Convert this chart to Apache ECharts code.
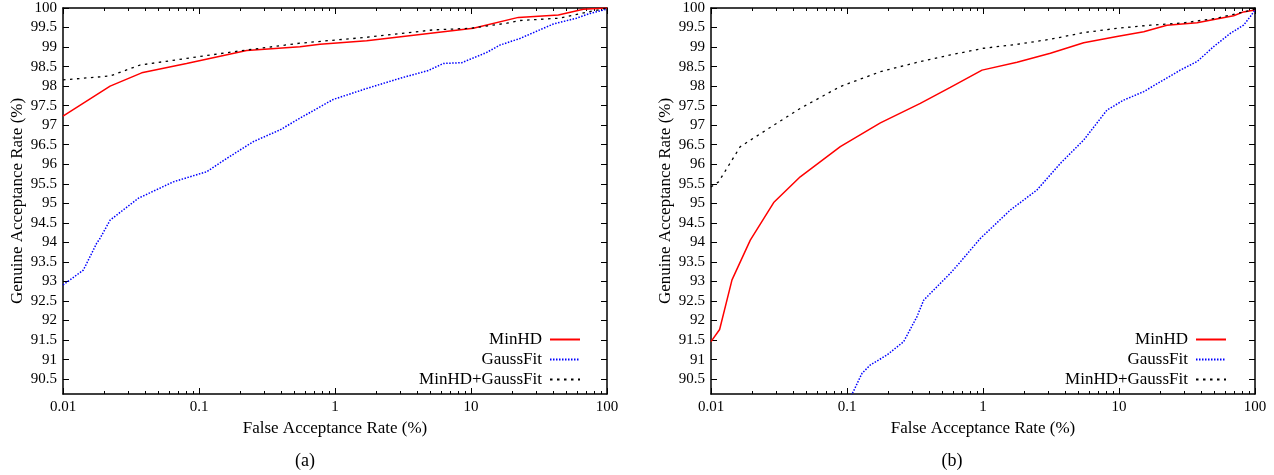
<!DOCTYPE html>
<html>
<head>
<meta charset="utf-8">
<script src="https://cdn.jsdelivr.net/npm/echarts@6/dist/echarts.min.js"></script>
<style>
  html, body { margin: 0; padding: 0; background: #fff; }
  #chart { width: 1274px; height: 475px; }
</style>
</head>
<body>
<div id="chart"></div>
<script>
// tick labels
const xTickLabels = [0.01, 0.1, 1, 10, 100];
const yTickLabels = [90.5, 91, 91.5, 92, 92.5, 93, 93.5, 94, 94.5, 95, 95.5, 96,
  96.5, 97, 97.5, 98, 98.5, 99, 99.5, 100];
const seriesNames = ['MinHD', 'GaussFit', 'MinHD+GaussFit'];
const panelLabels = ['(a)', '(b)'];

// panel (a): FAR (%) / GAR (%)
const aMinhdFar = [0.01, 0.0222, 0.0379, 0.081, 0.224, 0.553, 0.776, 1.71, 10.4, 22.3, 43.9, 67, 100];
const aMinhdGar = [97.23, 98.0, 98.34, 98.58, 98.91, 99.01, 99.07, 99.16, 99.48, 99.76, 99.82, 99.97, 100];
const aGaussFar = [0.01, 0.0141, 0.0177, 0.0187, 0.0222, 0.0358, 0.0647, 0.114, 0.16, 0.251, 0.394,
  0.553, 0.776, 0.972, 1.71, 3.0, 4.86, 6.26, 8.55, 13.0, 16.3, 22.9, 40.3, 59.8, 75, 100];
const aGaussGar = [92.91, 93.29, 93.98, 94.1, 94.57, 95.13, 95.55, 95.81, 96.15, 96.58, 96.88,
  97.18, 97.47, 97.66, 97.94, 98.2, 98.4, 98.58, 98.6, 98.86, 99.05, 99.22, 99.59, 99.74, 99.86, 99.97];
const aFusionFar = [0.01, 0.0222, 0.0368, 0.081, 0.179, 0.553, 1.71, 5.28, 9.84, 18.3, 22.9, 45.1, 70.9, 100];
const aFusionGar = [98.16, 98.26, 98.54, 98.71, 98.88, 99.1, 99.25, 99.44, 99.48, 99.61, 99.68, 99.74, 99.89, 100];

// panel (b)
const bMinhdFar = [0.01, 0.01157, 0.01427, 0.01945, 0.0289, 0.0453, 0.0893, 0.176, 0.346, 0.575,
  0.984, 1.78, 3.13, 5.5, 9.66, 15.2, 22.5, 37.5, 69.6, 82.4, 100];
const bMinhdGar = [91.46, 91.77, 93.04, 94.06, 95.02, 95.68, 96.45, 97.06, 97.56, 97.97,
  98.41, 98.61, 98.84, 99.11, 99.27, 99.39, 99.56, 99.62, 99.8, 99.9, 99.95];
const bGaussFar = [0.105, 0.129, 0.148, 0.197, 0.261, 0.327, 0.366, 0.485, 0.575, 0.681, 0.955,
  1.59, 2.49, 3.7, 5.5, 8.17, 10.8, 15.2, 21.3, 28.2, 37.5, 49.6, 65.8, 82.4, 92.3, 100];
const bGaussGar = [90.0, 90.65, 90.86, 91.12, 91.46, 92.1, 92.52, 92.95, 93.21, 93.5, 94.1,
  94.83, 95.34, 96.02, 96.62, 97.39, 97.64, 97.86, 98.16, 98.41, 98.63, 99.01, 99.35, 99.56, 99.78, 99.95];
const bFusionFar = [0.01, 0.01137, 0.0164, 0.0289, 0.0453, 0.0893, 0.176, 0.346, 0.575, 1.01,
  1.78, 3.13, 5.5, 9.66, 17.0, 29.9, 52.5, 73.8, 100];
const bFusionGar = [95.42, 95.55, 96.45, 97.0, 97.43, 97.99, 98.37, 98.63, 98.8, 98.97,
  99.07, 99.2, 99.37, 99.48, 99.56, 99.62, 99.74, 99.86, 99.97];

const FONT = '"Liberation Serif", "DejaVu Serif", serif';
const Y_MIN = 90.12;

const xMinorTicks = [];
for (let d = 0.01; d < 99; d *= 10) {
  for (let m = 2; m <= 9; m++) xMinorTicks.push(+(d * m).toPrecision(3));
}

const pair = (xs, ys) => xs.map((x, i) => [x, ys[i]]);

const grids = [
  { left: 63, top: 8, width: 544, height: 386 },
  { left: 711, top: 8, width: 544, height: 386 },
];

const xAxes = [];
const yAxes = [];
grids.forEach((g, gi) => {
  const base = {
    type: 'log', logBase: 10, min: 0.01, max: 100, gridIndex: gi,
    splitLine: { show: false },
    axisLine: { show: true, lineStyle: { color: '#000', width: 1.5 } },
  };
  ['bottom', 'top'].forEach((pos) => {
    xAxes.push(Object.assign({}, base, {
      position: pos,
      name: pos === 'bottom' ? 'False Acceptance Rate (%)' : '',
      nameLocation: 'middle',
      nameGap: 18,
      nameTextStyle: { fontFamily: FONT, fontSize: 17, color: '#000' },
      axisTick: { show: true, inside: true, length: 6, customValues: xTickLabels,
        lineStyle: { color: '#000' } },
      axisLabel: { show: pos === 'bottom', customValues: xTickLabels, margin: 6,
        fontFamily: FONT, fontSize: 15, color: '#000' },
    }));
    xAxes.push(Object.assign({}, base, {
      position: pos,
      axisLine: { show: false },
      axisTick: { show: true, inside: true, length: 3, customValues: xMinorTicks,
        lineStyle: { color: '#000' } },
      axisLabel: { show: false },
    }));
  });
  ['left', 'right'].forEach((pos) => {
    yAxes.push({
      type: 'value', min: Y_MIN, max: 100, gridIndex: gi, position: pos,
      name: pos === 'left' ? 'Genuine Acceptance Rate (%)' : '',
      nameLocation: 'middle',
      nameGap: 37,
      nameTextStyle: { fontFamily: FONT, fontSize: 17, color: '#000' },
      splitLine: { show: false },
      axisLine: { show: true, lineStyle: { color: '#000', width: 1.5 } },
      axisTick: { show: true, inside: true, length: 6, customValues: yTickLabels,
        lineStyle: { color: '#000' } },
      axisLabel: { show: pos === 'left', customValues: yTickLabels, margin: 6,
        fontFamily: FONT, fontSize: 15, color: '#000' },
    });
  });
});

const styles = [
  { color: '#ff0000', lineStyle: { color: '#ff0000', width: 1.5, type: 'solid' } },
  { color: '#0000ff', lineStyle: { color: '#0000ff', width: 1.5, type: [1.5, 1.5] } },
  { color: '#000000', lineStyle: { color: '#000000', width: 1.3, type: [2.5, 4.5] } },
];

const panelData = [
  [pair(aMinhdFar, aMinhdGar), pair(aGaussFar, aGaussGar), pair(aFusionFar, aFusionGar)],
  [pair(bMinhdFar, bMinhdGar), pair(bGaussFar, bGaussGar), pair(bFusionFar, bFusionGar)],
];

const series = [];
panelData.forEach((sets, pi) => {
  sets.forEach((data, si) => {
    series.push(Object.assign({
      name: seriesNames[si],
      type: 'line',
      xAxisIndex: pi * 4,
      yAxisIndex: pi * 2,
      data: data,
      symbol: 'none',
      smooth: false,
      clip: true,
    }, styles[si]));
  });
});

// hide the circle that line legends always draw; keep the line sample
const legendBase = {
  orient: 'vertical', align: 'right', top: 331, padding: 0,
  itemWidth: 30, itemHeight: 14, itemGap: 3,
  data: seriesNames,
  itemStyle: { opacity: 0, color: 'transparent', borderColor: 'transparent', borderWidth: 0 },
  textStyle: { fontFamily: FONT, fontSize: 17, color: '#000', padding: [0, 3, 0, 0] },
};

const chart = echarts.init(document.getElementById('chart'));
chart.setOption({
  animation: false,
  backgroundColor: '#fff',
  grid: grids,
  xAxis: xAxes,
  yAxis: yAxes,
  legend: [
    Object.assign({ right: 693 }, legendBase),
    Object.assign({ right: 47 }, legendBase),
  ],
  graphic: [
    { type: 'text', x: 305, y: 461, style: { text: panelLabels[0], align: 'center',
      verticalAlign: 'middle', font: '18px ' + FONT, fill: '#000' } },
    { type: 'text', x: 952, y: 461, style: { text: panelLabels[1], align: 'center',
      verticalAlign: 'middle', font: '18px ' + FONT, fill: '#000' } },
  ],
  series: series,
});
</script>
</body>
</html>
